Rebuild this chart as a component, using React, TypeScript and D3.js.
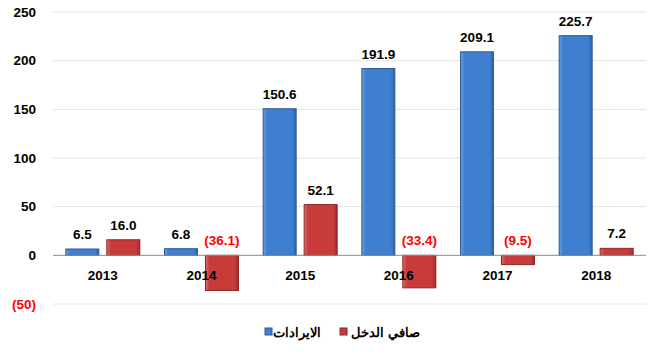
import React, { useRef, useEffect } from "react";
import * as d3 from "d3";

const years = ["2013", "2014", "2015", "2016", "2017", "2018"];
const revenue = [6.5, 6.8, 150.6, 191.9, 209.1, 225.7];
const netIncome = [16.0, -36.1, 52.1, -33.4, -9.5, 7.2];
const yTicks = [-50, 0, 50, 100, 150, 200, 250];
const seriesNames = ["الايرادات", "صافي الدخل"];

const FONT = "'Liberation Sans', Arial, sans-serif";

function fmt(v: number) {
  return v < 0 ? "(" + Math.abs(v).toFixed(1) + ")" : v.toFixed(1);
}

export default function App() {
  const ref = useRef<SVGSVGElement>(null);

  useEffect(() => {
    const width = 665, height = 352;
    const left = 53, right = 646;
    const svg = d3.select(ref.current);
    svg.selectAll("*").remove();
    svg.attr("width", width).attr("height", height);

    const defs = svg.append("defs");
    const mkGrad = (id: string, c1: string, c2: string, c3: string) => {
      const g = defs.append("linearGradient").attr("id", id)
        .attr("x1", "0").attr("x2", "1").attr("y1", "0").attr("y2", "0");
      g.append("stop").attr("offset", "0%").attr("stop-color", c1);
      g.append("stop").attr("offset", "12%").attr("stop-color", c2);
      g.append("stop").attr("offset", "88%").attr("stop-color", c2);
      g.append("stop").attr("offset", "100%").attr("stop-color", c3);
    };
    mkGrad("gBlue", "#6a9fe0", "#3f7fcf", "#2d63a8");
    mkGrad("gRed", "#e06b6b", "#c83b3b", "#9c2a2a");

    const y = d3.scaleLinear().domain([-50, 250]).range([304, 12]);
    const x0 = d3.scaleBand().domain(years).range([left, right]).paddingInner(0.25).paddingOuter(0.13);
    const x1 = d3.scaleBand().domain(["r", "n"]).range([0, x0.bandwidth()]).paddingInner(0.195);

    // gridlines
    svg.append("g").selectAll("line").data(yTicks.filter(t => t !== 0)).join("line")
      .attr("x1", left).attr("x2", right)
      .attr("y1", d => y(d)).attr("y2", d => y(d))
      .attr("stroke", "#e4e4e4").attr("stroke-width", 1);

    // y tick labels
    svg.append("g").selectAll("text").data(yTicks).join("text")
      .attr("x", 36).attr("y", d => y(d)).attr("dy", "0.35em")
      .attr("text-anchor", "end")
      .attr("font-family", FONT).attr("font-weight", "bold").attr("font-size", 13.5)
      .attr("fill", d => (d < 0 ? "#ff0000" : "#000"))
      .text(d => (d < 0 ? "(" + Math.abs(d) + ")" : String(d)));

    const groups = svg.append("g").selectAll("g").data(years).join("g")
      .attr("transform", d => "translate(" + x0(d) + ",0)");

    const drawBar = (vals: number[], key: string, fill: string, stroke: string) => {
      groups.append("rect")
        .attr("x", x1(key)!)
        .attr("width", x1.bandwidth())
        .attr("y", (d, i) => y(Math.max(0, vals[i])))
        .attr("height", (d, i) => Math.abs(y(vals[i]) - y(0)))
        .attr("fill", fill).attr("stroke", stroke).attr("stroke-width", 1);
      groups.append("text")
        .attr("x", x1(key)! + x1.bandwidth() / 2)
        .attr("y", (d, i) => (vals[i] >= 0 ? y(vals[i]) - 10 : y(0) - 10))
        .attr("text-anchor", "middle")
        .attr("font-family", FONT).attr("font-weight", "bold").attr("font-size", 13.5)
        .attr("fill", (d, i) => (vals[i] < 0 ? "#ff0000" : "#000"))
        .text((d, i) => fmt(vals[i]));
    };
    drawBar(revenue, "r", "url(#gBlue)", "#2b5a96");
    drawBar(netIncome, "n", "url(#gRed)", "#8e2626");

    // zero line
    svg.append("line").attr("x1", left).attr("x2", right)
      .attr("y1", y(0)).attr("y2", y(0)).attr("stroke", "#8c8c8c").attr("stroke-width", 1);

    // year labels
    svg.append("g").selectAll("text").data(years).join("text")
      .attr("x", d => x0(d)! + x0.bandwidth() / 2).attr("y", y(0) + 25)
      .attr("text-anchor", "middle")
      .attr("font-family", FONT).attr("font-weight", "bold").attr("font-size", 13.5)
      .attr("fill", "#000").text(d => d);

    // legend
    const leg = svg.append("g");
    const items = [
      { name: seriesNames[0], fill: "url(#gBlue)", stroke: "#2b5a96", x: 265, end: 321 },
      { name: seriesNames[1], fill: "url(#gRed)", stroke: "#8e2626", x: 340, end: 420 },
    ];
    items.forEach(it => {
      leg.append("rect").attr("x", it.x).attr("y", 328).attr("width", 7).attr("height", 7)
        .attr("fill", it.fill).attr("stroke", it.stroke);
      leg.append("text").attr("x", it.end).attr("y", 332).attr("dy", "0.35em")
        .attr("text-anchor", "end")
        .attr("font-family", FONT).attr("font-weight", "bold").attr("font-size", 13)
        .text(it.name);
    });
  }, []);

  return (
    <div style={{ position: "absolute", left: 0, top: 0, width: 665, height: 352, background: "#fff" }}>
      <svg ref={ref}></svg>
    </div>
  );
}
